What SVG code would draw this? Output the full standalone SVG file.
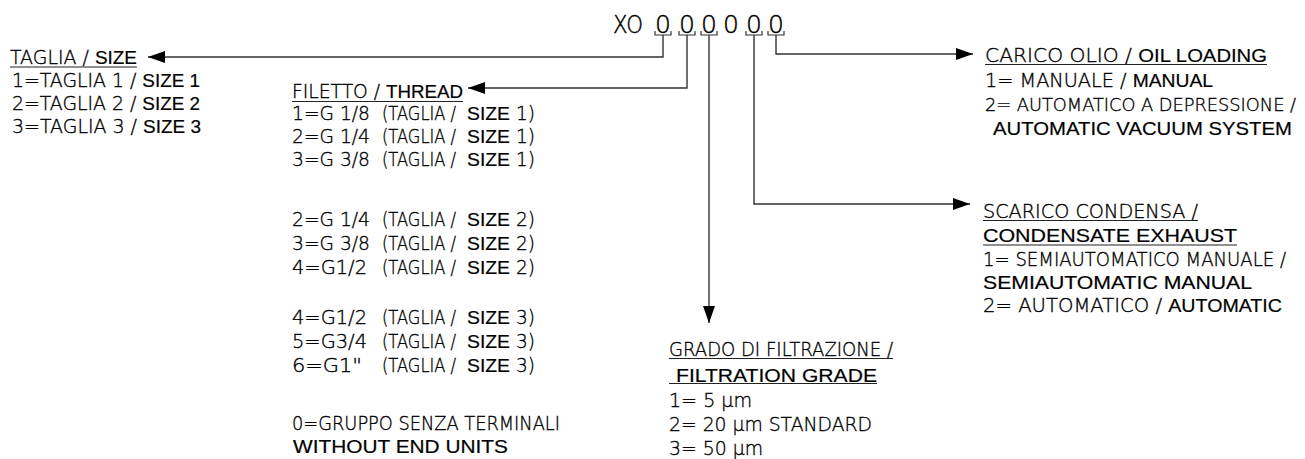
<svg xmlns="http://www.w3.org/2000/svg" width="1305" height="459" viewBox="0 0 1305 459">
<style>
text{font-size:19px;font-family:"DejaVu Sans","Liberation Sans",sans-serif;font-weight:200;fill:#000;stroke:#000;stroke-width:0.35}
.en{font-family:"Liberation Sans",Arial,sans-serif;font-size:19px;font-weight:400;fill:#000;stroke:#000;stroke-width:0.2}
.sm{font-size:18px}
.ul{stroke:#222;stroke-width:1.2}
.br{fill:none;stroke:#333;stroke-width:1.2}
.hd{font-size:25px;stroke-width:0.45}
.cn{fill:none;stroke:#333;stroke-width:1.4}
</style>
<defs>
<marker id="ah" markerUnits="userSpaceOnUse" viewBox="0 0 17 12" refX="17" refY="6" markerWidth="17" markerHeight="12" orient="auto">
<path d="M0,0 L17,6 L0,12 Z" fill="#000"/>
</marker>
</defs>
<rect width="1305" height="459" fill="#fff"/>

<g id="code">
<text class="hd" x="613" y="33" textLength="30" lengthAdjust="spacingAndGlyphs">XO</text>
<text class="hd" x="663" y="33" text-anchor="middle">0</text>
<text class="hd" x="687" y="33" text-anchor="middle">0</text>
<text class="hd" x="709" y="33" text-anchor="middle">0</text>
<text class="hd" x="731" y="33" text-anchor="middle">0</text>
<text class="hd" x="754" y="33" text-anchor="middle">0</text>
<text class="hd" x="776" y="33" text-anchor="middle">0</text>
<path class="br" d="M655,31V35H671V31M679,31V35H695V31M701,31V35H717V31M746,31V35H762V31M768,31V35H784V31"/>
</g>

<g id="connectors">
<path class="cn" d="M663,35V57H148" marker-end="url(#ah)"/>
<path class="cn" d="M687,35V88H468" marker-end="url(#ah)"/>
<path class="cn" d="M709,35V323" marker-end="url(#ah)"/>
<path class="cn" d="M754,35V204H970" marker-end="url(#ah)"/>
<path class="cn" d="M776,35V54H973" marker-end="url(#ah)"/>
</g>

<g id="size">
<text x="10" y="64" textLength="127" lengthAdjust="spacingAndGlyphs">TAGLIA / <tspan class="en">SIZE</tspan></text>
<line class="ul" x1="10" y1="67" x2="137" y2="67"/>
<text x="12" y="87" textLength="188" lengthAdjust="spacingAndGlyphs">1=TAGLIA 1 / <tspan class="en">SIZE 1</tspan></text>
<text x="12" y="110" textLength="188" lengthAdjust="spacingAndGlyphs">2=TAGLIA 2 / <tspan class="en">SIZE 2</tspan></text>
<text x="12" y="133" textLength="189" lengthAdjust="spacingAndGlyphs">3=TAGLIA 3 / <tspan class="en">SIZE 3</tspan></text>
</g>

<g id="thread">
<text x="292" y="98" textLength="171" lengthAdjust="spacingAndGlyphs">FILETTO / <tspan class="en">THREAD</tspan></text>
<line class="ul" x1="292" y1="101.5" x2="463" y2="101.5"/>

<text x="292" y="120" textLength="78" lengthAdjust="spacingAndGlyphs">1=G 1/8</text>
<text x="382" y="120" textLength="74" lengthAdjust="spacingAndGlyphs">(TAGLIA /</text>
<text class="en" x="467" y="120" textLength="43" lengthAdjust="spacingAndGlyphs">SIZE</text>
<text x="516" y="120" textLength="19" lengthAdjust="spacingAndGlyphs">1)</text>

<text x="292" y="143" textLength="78" lengthAdjust="spacingAndGlyphs">2=G 1/4</text>
<text x="382" y="143" textLength="74" lengthAdjust="spacingAndGlyphs">(TAGLIA /</text>
<text class="en" x="467" y="143" textLength="43" lengthAdjust="spacingAndGlyphs">SIZE</text>
<text x="516" y="143" textLength="19" lengthAdjust="spacingAndGlyphs">1)</text>

<text x="292" y="166" textLength="78" lengthAdjust="spacingAndGlyphs">3=G 3/8</text>
<text x="382" y="166" textLength="74" lengthAdjust="spacingAndGlyphs">(TAGLIA /</text>
<text class="en" x="467" y="166" textLength="43" lengthAdjust="spacingAndGlyphs">SIZE</text>
<text x="516" y="166" textLength="19" lengthAdjust="spacingAndGlyphs">1)</text>

<text x="292" y="226" textLength="78" lengthAdjust="spacingAndGlyphs">2=G 1/4</text>
<text x="382" y="226" textLength="74" lengthAdjust="spacingAndGlyphs">(TAGLIA /</text>
<text class="en" x="467" y="226" textLength="43" lengthAdjust="spacingAndGlyphs">SIZE</text>
<text x="516" y="226" textLength="19" lengthAdjust="spacingAndGlyphs">2)</text>

<text x="292" y="250" textLength="78" lengthAdjust="spacingAndGlyphs">3=G 3/8</text>
<text x="382" y="250" textLength="74" lengthAdjust="spacingAndGlyphs">(TAGLIA /</text>
<text class="en" x="467" y="250" textLength="43" lengthAdjust="spacingAndGlyphs">SIZE</text>
<text x="516" y="250" textLength="19" lengthAdjust="spacingAndGlyphs">2)</text>

<text x="292" y="274" textLength="75" lengthAdjust="spacingAndGlyphs">4=G1/2</text>
<text x="382" y="274" textLength="74" lengthAdjust="spacingAndGlyphs">(TAGLIA /</text>
<text class="en" x="467" y="274" textLength="43" lengthAdjust="spacingAndGlyphs">SIZE</text>
<text x="516" y="274" textLength="19" lengthAdjust="spacingAndGlyphs">2)</text>

<text x="292" y="324" textLength="75" lengthAdjust="spacingAndGlyphs">4=G1/2</text>
<text x="382" y="324" textLength="74" lengthAdjust="spacingAndGlyphs">(TAGLIA /</text>
<text class="en" x="467" y="324" textLength="43" lengthAdjust="spacingAndGlyphs">SIZE</text>
<text x="516" y="324" textLength="19" lengthAdjust="spacingAndGlyphs">3)</text>

<text x="292" y="348" textLength="75" lengthAdjust="spacingAndGlyphs">5=G3/4</text>
<text x="382" y="348" textLength="74" lengthAdjust="spacingAndGlyphs">(TAGLIA /</text>
<text class="en" x="467" y="348" textLength="43" lengthAdjust="spacingAndGlyphs">SIZE</text>
<text x="516" y="348" textLength="19" lengthAdjust="spacingAndGlyphs">3)</text>

<text x="292" y="372" textLength="70" lengthAdjust="spacingAndGlyphs">6=G1"</text>
<text x="382" y="372" textLength="74" lengthAdjust="spacingAndGlyphs">(TAGLIA /</text>
<text class="en" x="467" y="372" textLength="43" lengthAdjust="spacingAndGlyphs">SIZE</text>
<text x="516" y="372" textLength="19" lengthAdjust="spacingAndGlyphs">3)</text>

<text x="292" y="430" textLength="268" lengthAdjust="spacingAndGlyphs">0=GRUPPO SENZA TERMINALI</text>
<text class="en" x="293" y="453" textLength="215" lengthAdjust="spacingAndGlyphs">WITHOUT END UNITS</text>
</g>

<g id="filtration">
<text x="669" y="356" textLength="224" lengthAdjust="spacingAndGlyphs">GRADO DI FILTRAZIONE /</text>
<line class="ul" x1="669" y1="358.5" x2="893" y2="358.5"/>
<text class="en" x="676" y="381.5" textLength="201" lengthAdjust="spacingAndGlyphs">FILTRATION GRADE</text>
<line class="ul" x1="669" y1="383.5" x2="877" y2="383.5"/>
<text x="669" y="406.5" textLength="83" lengthAdjust="spacingAndGlyphs">1= 5 µm</text>
<text x="669" y="431" textLength="203" lengthAdjust="spacingAndGlyphs">2= 20 µm STANDARD</text>
<text x="669" y="455" textLength="94" lengthAdjust="spacingAndGlyphs">3= 50 µm</text>
</g>

<g id="oil">
<text x="985" y="62" textLength="282" lengthAdjust="spacingAndGlyphs">CARICO OLIO / <tspan class="en">OIL LOADING</tspan></text>
<line class="ul" x1="985" y1="64.5" x2="1267" y2="64.5"/>
<text x="985" y="87" textLength="228" lengthAdjust="spacingAndGlyphs">1= MANUALE / <tspan class="en">MANUAL</tspan></text>
<text class="sm" x="985" y="111" textLength="311" lengthAdjust="spacingAndGlyphs">2= AUTOMATICO A DEPRESSIONE /</text>
<text class="en" x="993" y="135" textLength="299" lengthAdjust="spacingAndGlyphs">AUTOMATIC VACUUM SYSTEM</text>
</g>

<g id="condensate">
<text x="983" y="218" textLength="215" lengthAdjust="spacingAndGlyphs">SCARICO CONDENSA /</text>
<line class="ul" x1="983" y1="220.5" x2="1198" y2="220.5"/>
<text class="en" x="983" y="242" textLength="254" lengthAdjust="spacingAndGlyphs">CONDENSATE EXHAUST</text>
<line class="ul" x1="983" y1="245" x2="1237" y2="245"/>
<text x="983" y="265.5" textLength="303" lengthAdjust="spacingAndGlyphs">1= SEMIAUTOMATICO MANUALE /</text>
<text class="en" x="983" y="289" textLength="269" lengthAdjust="spacingAndGlyphs">SEMIAUTOMATIC MANUAL</text>
<text x="983" y="312" textLength="299" lengthAdjust="spacingAndGlyphs">2= AUTOMATICO / <tspan class="en">AUTOMATIC</tspan></text>
</g>
</svg>
